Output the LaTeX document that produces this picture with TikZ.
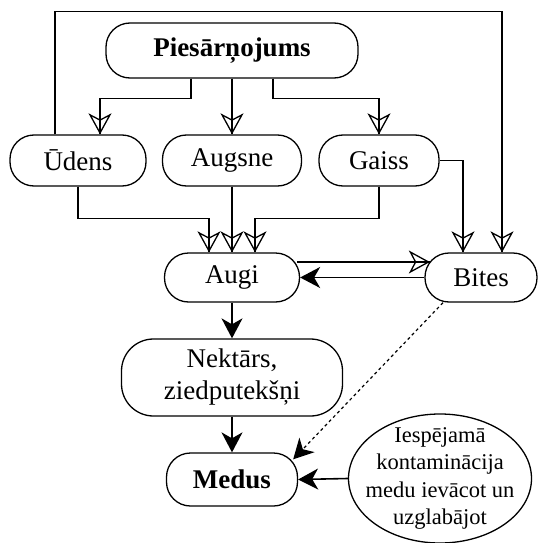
\documentclass[tikz,border=0pt]{standalone}
\usepackage{fontspec}
\setmainfont{Liberation Serif}
\usetikzlibrary{arrows.meta,shapes.geometric}
\tikzset{
  box/.style={draw, line width=1.3pt, rectangle, rounded corners=24pt, inner sep=0pt,
    align=center, font=\fontsize{27}{32}\selectfont},
  contbox/.style={draw, line width=1.3pt, ellipse, inner xsep=-14pt, inner ysep=-12pt, align=center,
    minimum width=183pt, minimum height=129pt, font=\fontsize{22.5}{27.5}\selectfont},
  oa/.style={line width=1.6pt, -{Stealth[open, length=21pt, width=23pt, inset=6pt, line width=1.3pt]},
    postaction={draw, -}},
  fa/.style={line width=1.6pt, -{Stealth[length=20pt, width=21pt, inset=6pt]}},
  da/.style={line width=1.2pt, dash pattern=on 3pt off 3pt, -{Stealth[length=20pt, width=21pt, inset=6pt]}},
}
\begin{document}
\begin{tikzpicture}[x=1pt,y=-1pt]
\useasboundingbox (0,0) rectangle (539,543);
\node[box, minimum width=252pt, minimum height=55pt] (pies) at (232,50.5) {\textbf{Piesārņojums}};
\node[box, minimum width=136pt, minimum height=51pt] (udens) at (78,160.5) {Ūdens};
\node[box, minimum width=139pt, minimum height=51pt] (augsne) at (232,160.5) {Augsne};
\node[box, minimum width=120pt, minimum height=51pt] (gaiss) at (379,160.5) {Gaiss};
\node[box, minimum width=135pt, minimum height=49pt] (augi) at (232,277.5) {Augi};
\node[box, minimum width=112pt, minimum height=49pt] (bites) at (481,277.5) {Bites};
\node[box, rounded corners=32pt, minimum width=221pt, minimum height=77pt] (nekt) at (232,377.5) {Nektārs,\\ziedputekšņi};
\node[box, minimum width=131pt, minimum height=53pt] (medus) at (232,479.5) {\textbf{Medus}};
\node[contbox] (cont) at (440,478.5) {Iespējamā\\kontaminācija\\medu ievācot un\\uzglabājot};

\draw[oa] ([xshift=-41]pies.south) -- ++(0,20) -| ([xshift=22]udens.north);
\draw[oa] (pies.south) -- (augsne.north);
\draw[oa] ([xshift=41]pies.south) -- ++(0,20) -| (gaiss.north);
\draw[oa] ([xshift=-23]udens.north) -- ++(0,-123) -| ([xshift=21]bites.north);
\draw[oa] (udens.south) -- ++(0,32) -| ([xshift=-23]augi.north);
\draw[oa] (augsne.south) -- (augi.north);
\draw[oa] (gaiss.south) -- ++(0,32) -| ([xshift=23]augi.north);
\draw[oa] (gaiss.east) -| ([xshift=-18]bites.north);
\draw[oa] ([yshift=15.5,xshift=-3]augi.east) -- ([yshift=15.5,xshift=5.5]bites.west);
\draw[fa] (bites.west) -- (augi.east);
\draw[fa] (augi.south) -- (nekt.north);
\draw[fa] (nekt.south) -- (medus.north);
\draw[da] ([xshift=-38]bites.south) -- ([xshift=-5,yshift=-7]medus.north east);
\draw[fa] (cont.west) -- (medus.east);
\end{tikzpicture}
\end{document}
